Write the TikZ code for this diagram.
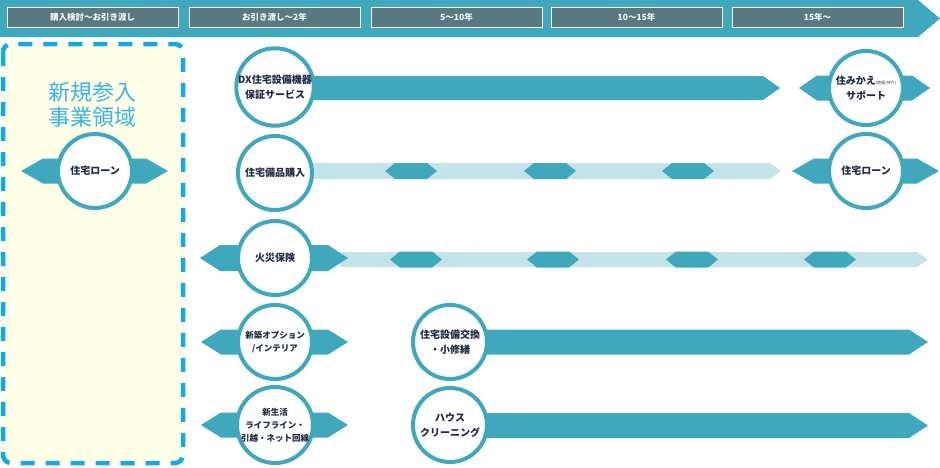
\documentclass[tikz,border=0pt]{standalone}
\usepackage{fontspec}
\usepackage{xcolor}
\usepackage{tikz}
\setmainfont{Noto Sans CJK JP}
\definecolor{bandteal}{RGB}{63,168,189}
\definecolor{bandlight}{RGB}{197,228,234}
\definecolor{headslate}{RGB}{88,121,130}
\definecolor{navytext}{RGB}{30,42,70}
\definecolor{dashblue}{RGB}{20,168,232}
\definecolor{newblue}{RGB}{60,180,228}
\definecolor{paleyellow}{RGB}{255,255,232}
\newcommand{\hexband}[6]{\fill[#6] (#1,#3) -- ({#1+#5},{#3-#4}) -- ({#2-#5},{#3-#4})
    -- (#2,#3) -- ({#2-#5},{#3+#4}) -- ({#1+#5},{#3+#4}) -- cycle;}
\newcommand{\arrowband}[6]{\fill[#6] (#1,{#3-#4}) -- ({#2-#5},{#3-#4}) -- (#2,#3)
    -- ({#2-#5},{#3+#4}) -- (#1,{#3+#4}) -- cycle;}

\begin{document}
\begin{tikzpicture}[x=1pt, y=-1pt,
    period/.style={draw=white, line width=1pt, fill=headslate, minimum width=171pt,
                   minimum height=20pt, inner sep=0pt, text=white!92!gray,
                   font=\bfseries\fontsize{8.5}{10}\selectfont},
    svc/.style={circle, draw=bandteal, line width=4pt, fill=white, minimum size=74pt,
                inner sep=0pt, align=center, text=navytext,
                font=\bfseries\fontsize{10}{15}\selectfont},
    svcsmall/.style={svc, font=\bfseries\fontsize{8.5}{13}\selectfont},
]
    \useasboundingbox (0,0) rectangle (940,467);
    \fill[bandteal] (0,0) -- (918,0) -- (940,18.5) -- (918,37) -- (0,37) -- cycle;
    \node[period] (p1) at (92.5,17) {購入検討〜お引き渡し};
    \node[period] (p2) at (274.5,17) {お引き渡し〜2年};
    \node[period] (p3) at (456.5,17) {5〜10年};
    \node[period] (p4) at (636.5,17) {10〜15年};
    \node[period] (p5) at (817.5,17) {15年〜};

    \draw[dashblue, line width=4.5pt, dash pattern=on 14pt off 11pt, fill=paleyellow,
          rounded corners=8pt] (3,44) rectangle (183,463);
    \node[text=newblue, align=center, font=\fontsize{22}{25}\selectfont] (newbiz) at (92,105)
        {新規参入\\事業領域};

    \hexband{21}{168}{171}{12.5}{22}{bandteal}
    \arrowband{275}{780}{88}{12}{17}{bandteal}
    \hexband{799}{930}{88}{12.5}{18}{bandteal}
    \arrowband{275}{781}{171}{8}{11}{bandlight}
    \foreach \x in {385,524,662} {\hexband{\x}{\x+52}{171}{8}{10}{bandteal}}
    \hexband{792}{939}{171}{12.5}{22}{bandteal}
    \arrowband{340}{928}{259.5}{7.5}{11}{bandlight}
    \foreach \x in {390,527,666,804} {\hexband{\x}{\x+52}{259.5}{8}{10}{bandteal}}
    \hexband{200}{348}{258}{13}{20}{bandteal}
    \hexband{201}{348}{342}{12.5}{20}{bandteal}
    \hexband{201}{348}{425}{12.5}{20}{bandteal}
    \arrowband{450}{928}{342}{12.5}{19}{bandteal}
    \arrowband{450}{928}{425.5}{12.5}{19}{bandteal}

    \node[svc] (loanA) at (95,171) {住宅ローン};
    \node[svc] (dx) at (275,87) {DX住宅設備機器\\保証サービス};
    \node[svc] (move) at (866,88) {住みかえ{\mdseries\fontsize{4}{5}\selectfont(売買/仲介)}\\サポート};
    \node[svc] (goods) at (275,173) {住宅備品購入};
    \node[svc] (loanB) at (866,171) {住宅ローン};
    \node[svc] (fire) at (275,258) {火災保険};
    \node[svcsmall] (option) at (275,342) {新築オプション\\/インテリア};
    \node[svcsmall] (life) at (275,425) {新生活\\ライフライン・\\引越・ネット回線};
    \node[svc] (repair) at (450,342) {住宅設備交換\\・小修繕};
    \node[svc] (clean) at (450,425) {ハウス\\クリーニング};
\end{tikzpicture}
\end{document}
